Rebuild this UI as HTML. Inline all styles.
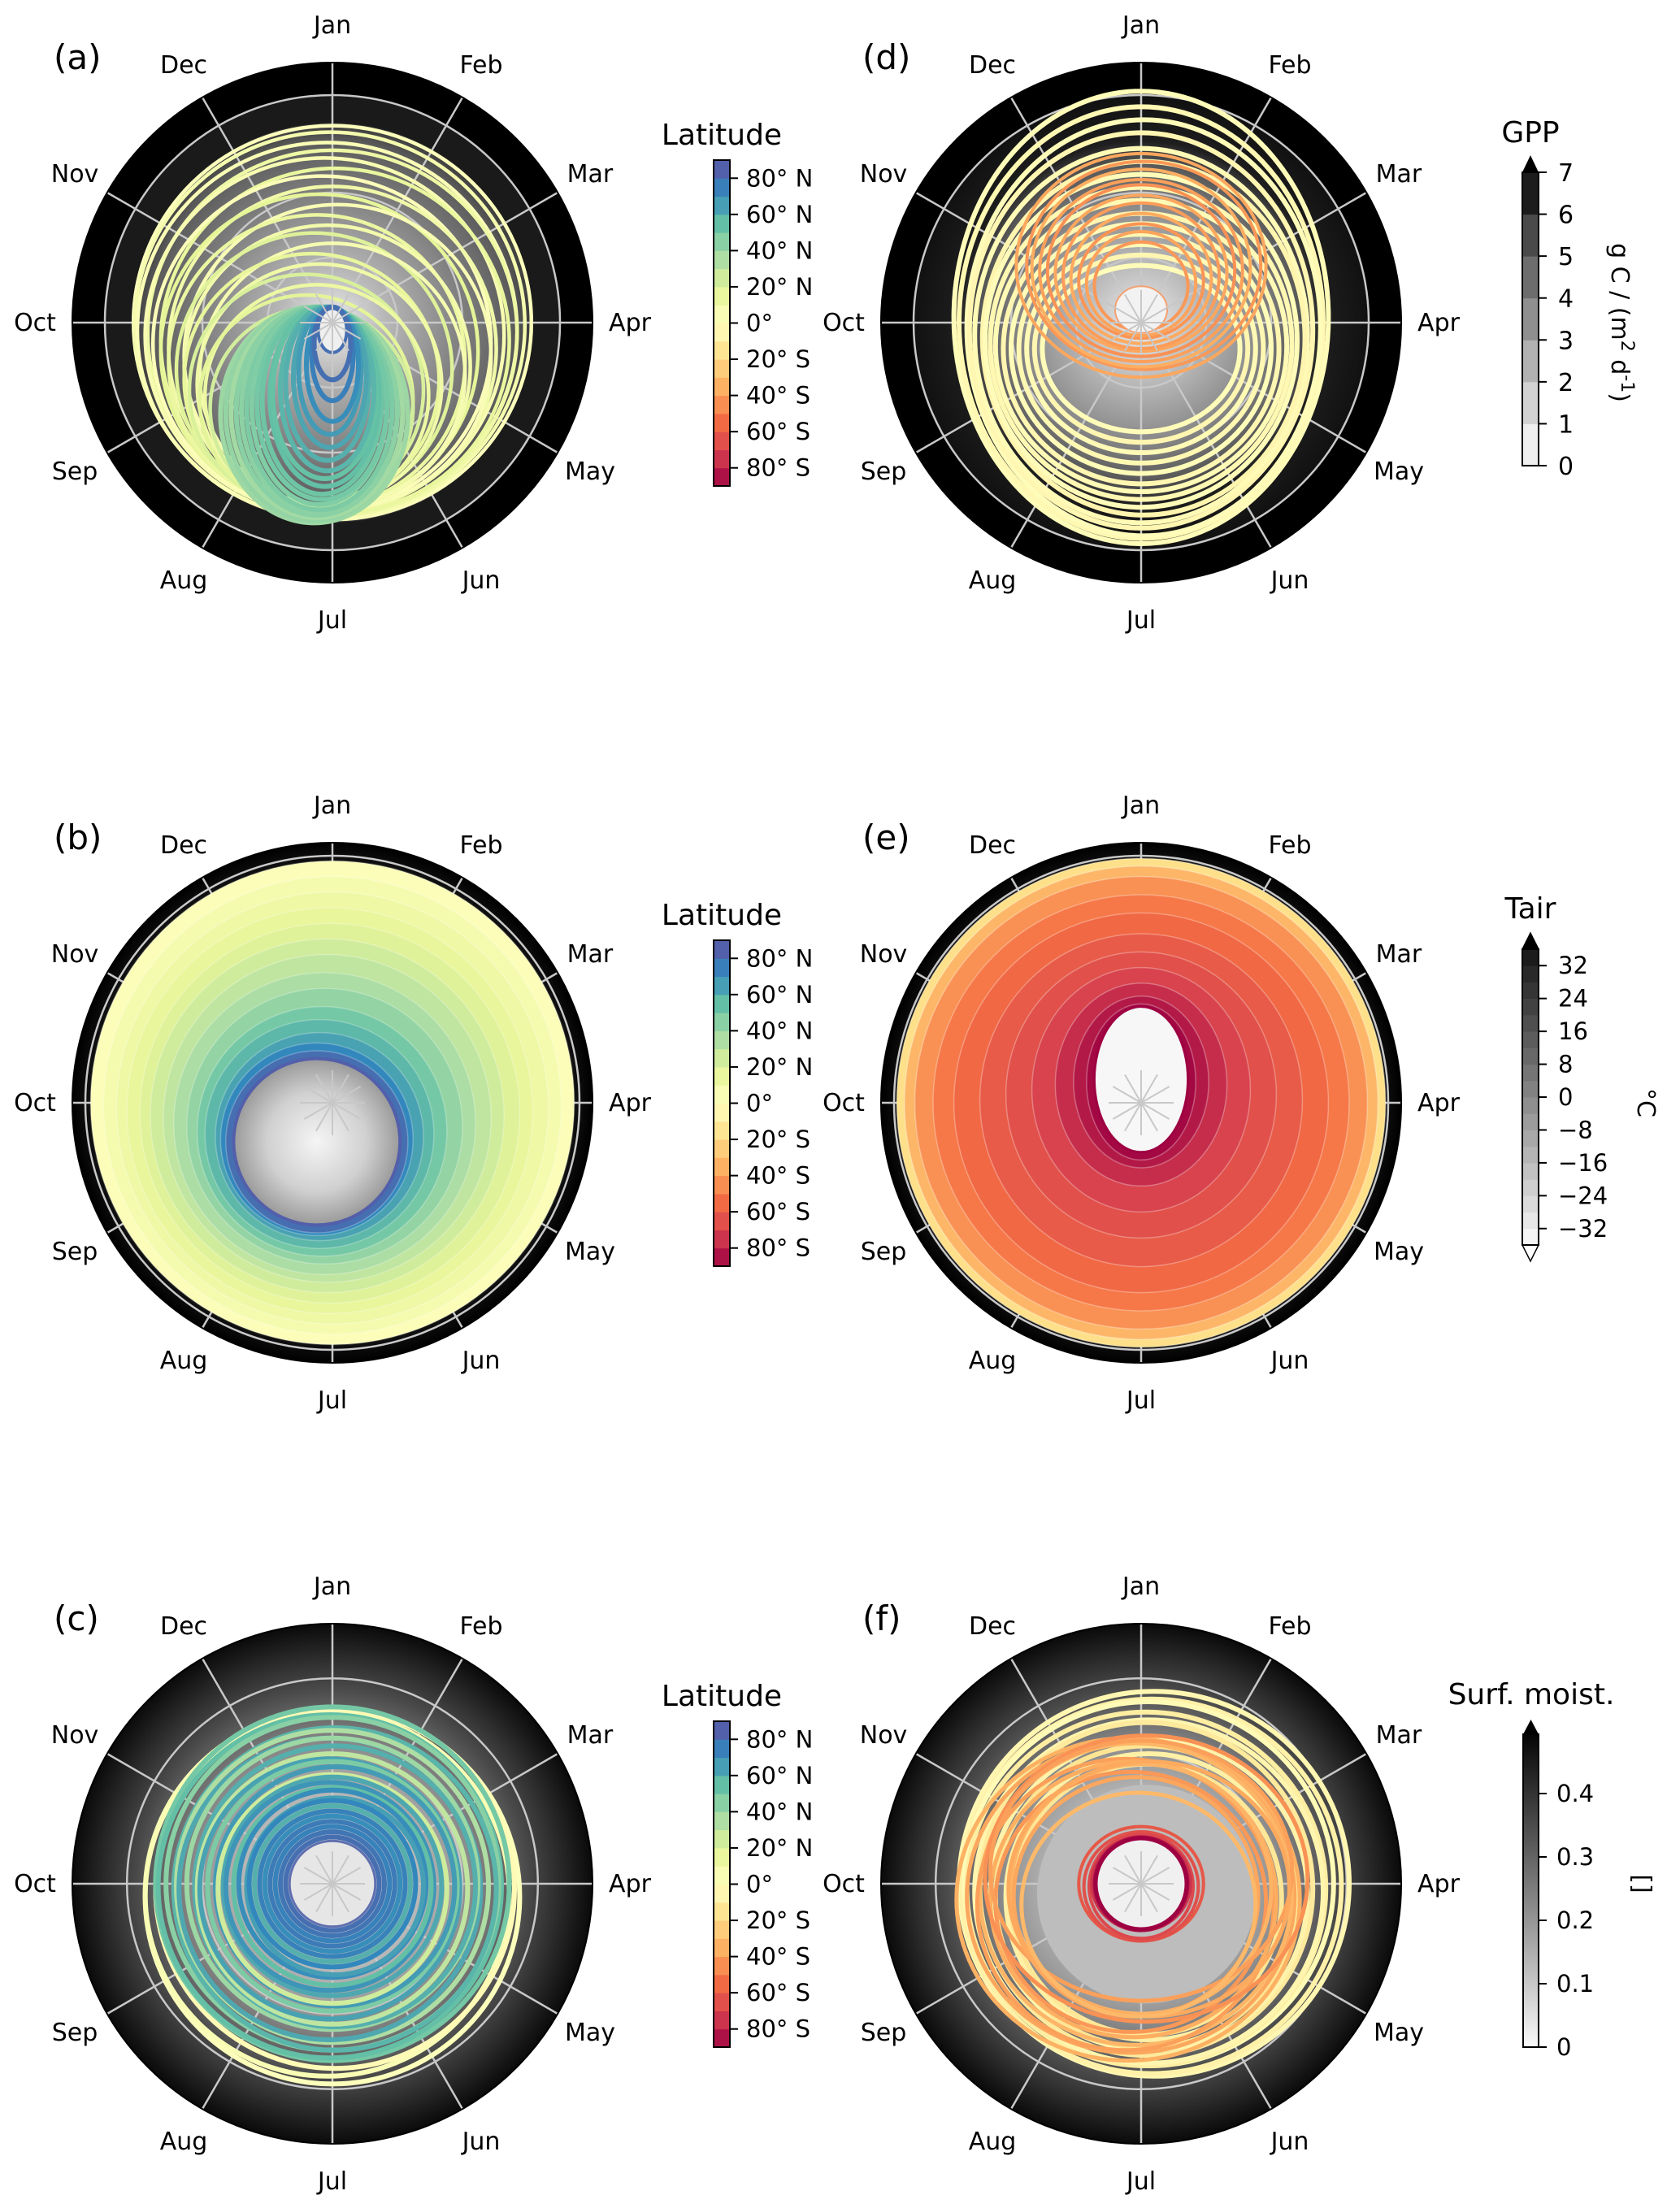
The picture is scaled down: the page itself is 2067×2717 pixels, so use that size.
<!DOCTYPE html>
<html><head><meta charset="utf-8"><style>
html,body{margin:0;padding:0;background:#fff;}
svg{display:block;font-family:"DejaVu Sans","Liberation Sans",sans-serif;}
</style></head><body>
<svg id="fig" width="2067" height="2717" viewBox="0 0 2067 2717" xmlns="http://www.w3.org/2000/svg"><defs id="defs"></defs></svg>
<script>
// ---------- data ----------
const months = ["Jan","Feb","Mar","Apr","May","Jun","Jul","Aug","Sep","Oct","Nov","Dec"];
const latTicks = [80,60,40,20,0,-20,-40,-60,-80];
const latTickLabels = ["80° N","60° N","40° N","20° N","0°","20° S","40° S","60° S","80° S"];
const gppTicks = [0,1,2,3,4,5,6,7];
const tairTicks = [32,24,16,8,0,-8,-16,-24,-32];
const tairTickLabels = ["32","24","16","8","0","\u22128","\u221216","\u221224","\u221232"];
const moistTicks = [0,0.1,0.2,0.3,0.4];
// panel a loops: [r, dx, dy, lat]
const aYellow = [[0.765,0,0,2],[0.75,-0.01,0.01,8],[0.73,-0.02,0.03,4],[0.71,0,0.04,12],[0.69,-0.03,0.05,6],[0.67,0.01,0.07,15],[0.65,-0.04,0.08,3],[0.63,0,0.1,10],[0.61,-0.05,0.11,18],[0.59,0.02,0.13,5],[0.57,-0.06,0.15,14],[0.55,-0.02,0.17,9],[0.53,-0.07,0.18,20],[0.51,0,0.2,7],[0.49,-0.08,0.22,16],[0.47,-0.05,0.24,11],[0.45,-0.1,0.26,22],[0.43,-0.06,0.28,13],[0.41,-0.1,0.3,19],[0.39,-0.08,0.33,24]];
// panel a teal loops: [rx, bottom, dx, lat]  (top fixed near centre)
const aTeal = [[0.36,0.77,-0.07,40],[0.34,0.76,-0.07,42],[0.33,0.75,-0.06,38],[0.31,0.74,-0.06,45],[0.3,0.73,-0.05,44],[0.28,0.72,-0.05,48],[0.26,0.7,-0.05,47],[0.25,0.68,-0.04,50],[0.23,0.66,-0.04,52],[0.21,0.63,-0.03,55],[0.2,0.6,-0.03,54],[0.18,0.57,-0.02,58],[0.16,0.53,-0.02,60],[0.14,0.48,-0.01,63],[0.12,0.43,-0.01,66],[0.1,0.38,0,70],[0.08,0.3,0,75],[0.07,0.22,0,80]];
// panel b filled bands: [r, dx, dy, lat]
const bBands = [[0.93,0,0,3],[0.88,0,0.01,8],[0.83,0,0.02,12],[0.78,-0.01,0.03,16],[0.73,-0.01,0.04,20],[0.68,-0.02,0.05,25],[0.63,-0.02,0.06,30],[0.58,-0.03,0.08,36],[0.53,-0.03,0.09,42],[0.48,-0.04,0.11,50],[0.44,-0.05,0.12,57],[0.4,-0.05,0.13,64],[0.37,-0.06,0.14,72],[0.35,-0.06,0.15,80]];
// panel c loops: [r, dx, dy, lat]
const cLoops = [[0.72,0,0.05,2],[0.7,-0.02,0.04,5],[0.69,0.01,0.02,-3],[0.68,0,0,50],[0.66,-0.01,0.01,55],[0.64,0,0,45],[0.62,0.01,0.02,58],[0.6,0,0.01,35],[0.58,-0.01,0.02,62],[0.56,0,0,40],[0.54,0.01,0.01,60],[0.52,0,0.02,30],[0.5,-0.01,0.02,64],[0.48,0,0.01,48],[0.46,0.01,0.01,66],[0.44,0,0.02,25],[0.42,0,0.01,62],[0.4,-0.01,0.01,68],[0.38,0,0.01,55],[0.36,0,0,70],[0.34,0.01,0.01,65],[0.32,0,0,72],[0.3,0,0,60],[0.28,0,0,74],[0.26,0,0,70],[0.24,0,0,76],[0.22,0,0,74],[0.2,0,0,78],[0.18,0,0,80]];
// panel d loops: [rx, ry, dx, dy, lat]
const dYellow = [[0.72,0.87,0,-0.02,-2],[0.7,0.83,0,0,-4],[0.68,0.8,0.01,0.02,-2],[0.66,0.76,0,0.03,-5],[0.64,0.72,0,0.05,-3],[0.62,0.68,0.01,0.06,-6],[0.6,0.64,0,0.07,-2],[0.58,0.6,0,0.08,-4],[0.56,0.56,0,0.09,-3],[0.53,0.52,0,0.1,-5],[0.5,0.48,0,0.1,-2],[0.47,0.44,0,0.1,-4],[0.44,0.4,0,0.1,-3],[0.41,0.36,0,0.1,-5],[0.38,0.32,0,0.1,-2]];
const dOrange = [[0.48,0.43,0,-0.22,-38],[0.45,0.4,0.01,-0.22,-42],[0.42,0.38,0,-0.21,-36],[0.39,0.35,0,-0.2,-40],[0.36,0.33,0,-0.2,-44],[0.33,0.3,0,-0.19,-38],[0.3,0.28,0,-0.18,-41],[0.27,0.25,0,-0.17,-37],[0.24,0.22,0,-0.16,-43],[0.21,0.2,0,-0.15,-39],[0.18,0.17,0,-0.14,-42]];
// panel e filled bands: [rx, ry, dx, dy, lat]
const eBands = [[0.94,0.94,0,0,-18],[0.91,0.91,0,0,-33],[0.87,0.87,0,0,-44],[0.8,0.8,0,0,-51],[0.72,0.73,0,0,-56],[0.62,0.64,0,-0.01,-61],[0.52,0.55,0,-0.03,-65],[0.42,0.47,0,-0.05,-70],[0.33,0.39,0,-0.07,-77],[0.26,0.33,0,-0.08,-83],[0.21,0.3,0,-0.08,-88]];
// panel f loops: [rx, ry, dx, dy, lat]
const fYellow = [[0.75,0.74,0.05,0,-5],[0.73,0.72,0.04,0.01,-8],[0.71,0.7,0.03,0,-3],[0.69,0.68,0.02,0.02,-10],[0.67,0.66,0.03,0.03,-6],[0.64,0.64,0.02,0.02,-12],[0.61,0.6,0.03,0.04,-7],[0.58,0.58,0.02,0.05,-15],[0.55,0.55,0.03,0.05,-9],[0.52,0.52,0.02,0.06,-14]];
const fOrange = [[0.66,0.62,-0.05,0.06,-35],[0.63,0.6,-0.04,0.05,-38],[0.6,0.58,-0.02,0.04,-33],[0.57,0.56,-0.06,0.08,-40],[0.55,0.53,-0.03,0.06,-36],[0.52,0.5,-0.04,0.07,-42],[0.5,0.48,0,0.02,-34],[0.47,0.46,-0.02,0.05,-38],[0.62,0.55,0.02,-0.02,-44],[0.58,0.5,0,-0.05,-40],[0.54,0.49,0.03,0.02,-37],[0.45,0.43,-0.01,0.08,-32]];
const fRed = [[0.24,0.22,0,0,-62],[0.22,0.21,0,0.01,-65],[0.2,0.2,0,0.01,-68],[0.19,0.18,0,0,-75],[0.18,0.18,0,0,-85]];

// ---------- helpers ----------
const NS = "http://www.w3.org/2000/svg";
const svg = document.getElementById("fig");
const defs = document.getElementById("defs");
const R = 320;
function mk(tag, attrs, parent){const e=document.createElementNS(NS,tag);for(const k in attrs)e.setAttribute(k,attrs[k]);(parent||svg).appendChild(e);return e;}
const spec=["#9e0142","#d53e4f","#f46d43","#fdae61","#fee08b","#ffffbf","#e6f598","#abdda4","#66c2a5","#3288bd","#5e4fa2"];
function hex(c){return [parseInt(c.slice(1,3),16),parseInt(c.slice(3,5),16),parseInt(c.slice(5,7),16)];}
function latColor(lat){let t=(lat+90)/180;t=Math.max(0,Math.min(1,t));const p=t*10,i=Math.min(9,Math.floor(p)),f=p-i;const a=hex(spec[i]),b=hex(spec[i+1]);return "rgb("+a.map((v,k)=>Math.round(v+(b[k]-v)*f)).join(",")+")";}
function rs(v){return v*R;} // radial scale
function gradient(id, stops){const g=mk("radialGradient",{id:id,cx:"50%",cy:"50%",r:"50%"},defs);stops.forEach(s=>mk("stop",{offset:s[0],"stop-color":s[1]},g));}

function panel(cx, cy, label, bgId, gridRs){
  const g = mk("g",{});
  
  
  const bg = mk("circle",{cx:cx,cy:cy,r:R,fill:"url(#"+bgId+")"},g);
  
  
  const grid = mk("g",{stroke:"#c8c8c8","stroke-width":2.5,fill:"none"},g);
  
  
  gridRs.forEach(r=>mk("circle",{cx:cx,cy:cy,r:rs(r)},grid));
  for(let i=0;i<12;i++){const a=i*Math.PI/6;mk("line",{x1:cx,y1:cy,x2:cx+R*Math.sin(a),y2:cy-R*Math.cos(a)},grid);}
  const data = mk("g",{fill:"none"},g);
  
  
  const top = mk("g",{},g);
  const outline = mk("circle",{cx:cx,cy:cy,r:R,fill:"none",stroke:"#000","stroke-width":2},top);
  
  
  months.forEach((m,i)=>{const a=i*Math.PI/6;const t=mk("text",{x:cx+366*Math.sin(a),y:cy-366*Math.cos(a)+10,"font-size":30,"text-anchor":"middle",fill:"#000"},top);t.textContent=m;
    
    });
  const pl = mk("text",{x:cx-343,y:cy-312,"font-size":42,fill:"#000"},top);pl.textContent=label;
  
  
  return {data:data,top:top,cx:cx,cy:cy,g:g,grid:grid};
}
function loop(p, rx, ry, dx, dy, color, w, fill){
  const e = mk("ellipse",{cx:p.cx+rs(dx),cy:p.cy+rs(dy),rx:rs(rx),ry:rs(ry),stroke:color,"stroke-width":w,fill:fill||"none"},p.data);
  
  
  return e;
}

// backgrounds
gradient("bgA",[[0,"#eeeeee"],[0.2,"#b8b8b8"],[0.45,"#888"],[0.7,"#5a5a5a"],[0.765,"#3a3a3a"],[0.77,"#1a1a1a"],[0.874,"#1a1a1a"],[0.876,"#000"],[1,"#000"]]);
gradient("bgD",[[0,"#eeeeee"],[0.2,"#c0c0c0"],[0.45,"#8a8a8a"],[0.62,"#555"],[0.7,"#1e1e1e"],[0.874,"#111"],[0.876,"#000"],[1,"#000"]]);
gradient("bgB",[[0,"#f0f0f0"],[0.3,"#bbb"],[0.9,"#333"],[0.93,"#111"],[1,"#000"]]);
gradient("bgC",[[0,"#ffffff"],[0.2,"#d4d4d4"],[0.5,"#959595"],[0.75,"#4a4a4a"],[1,"#0a0a0a"]]);
gradient("holeB",[[0,"#f5f5f5"],[0.6,"#d0d0d0"],[1,"#9a9a9a"]]);

// ---------- panel a ----------
const pa = panel(409,397,"(a)","bgA",[0.25,0.5,0.875]);
aYellow.forEach(d=>loop(pa,d[0],d[0]*0.99,d[1],d[2],latColor(d[3]),4.5));
aTeal.forEach(d=>{const top=-0.06;const ry=(d[1]-top)/2;loop(pa,d[0],ry,d[2],top+ry,latColor(d[3]),6);});
loop(pa,0.055,0.085,0,0.03,latColor(80),4,"#efefef");

// ---------- panel b ----------
const pb = panel(409,1357,"(b)","bgB",[0.95]);
bBands.forEach(d=>loop(pb,d[0],d[0],d[1],d[2],"rgba(255,255,255,0.25)",1.5,latColor(d[3])));
loop(pb,0.32,0.32,-0.06,0.15,latColor(85),4,"url(#holeB)");

// ---------- panel c ----------
const pc = panel(409,2318,"(c)","bgC",[0.5,0.79]);
cLoops.forEach(d=>loop(pc,d[0],d[0],d[1],d[2],latColor(d[3]),6));
loop(pc,0.165,0.165,0,0,"#5e6fb0",3,"#e6e6e6");

// ---------- panel d ----------
const pd = panel(1404,397,"(d)","bgD",[0.25,0.5,0.875]);
dYellow.forEach(d=>loop(pd,d[0],d[1],d[2],d[3],latColor(d[4]),6));
dOrange.forEach(d=>loop(pd,d[0],d[1],d[2],d[3],latColor(d[4]),4));
loop(pd,0.1,0.09,0,-0.05,"#f4a070",2,"#f2f2f2");

// ---------- panel e ----------
const pe = panel(1404,1357,"(e)","bgB",[0.95]);
eBands.forEach(d=>loop(pe,d[0],d[1],d[2],d[3],"rgba(255,255,255,0.3)",1.5,latColor(d[4])));
loop(pe,0.18,0.28,0,-0.09,"#9e0142",3,"#f7f7f7");

// ---------- panel f ----------
const pf = panel(1404,2318,"(f)","bgC",[0.5,0.79]);
fYellow.forEach(d=>loop(pf,d[0],d[1],d[2],d[3],latColor(d[4]),6));
loop(pf,0.42,0.42,0.02,0.04,"none",0,"#bdbdbd");
fOrange.forEach(d=>loop(pf,d[0],d[1],d[2],d[3],latColor(d[4]),5));
fRed.forEach(d=>loop(pf,d[0],d[1],d[2],d[3],latColor(d[4]),4));
loop(pf,0.175,0.175,0,0,"#9e0142",5,"#f0f0f0");
// redraw spokes over white centres
[pa,pb,pc,pd,pe,pf].forEach(p=>{const gg=mk("g",{stroke:"#c8c8c8","stroke-width":2},p.data);
  
  
  for(let i=0;i<12;i++){const a=i*Math.PI/6;mk("line",{x1:p.cx,y1:p.cy,x2:p.cx+40*Math.sin(a),y2:p.cy-40*Math.cos(a)},gg);}});

// ---------- colorbars ----------
function cbFrame(name){const g=mk("g",{});return g;}
function latBar(y0, y1, titleY){
  const g = cbFrame("latitude-colorbar");
  const x=878,w=20,scale=v=>y1-(v+90)/180*(y1-y0);
  for(let b=-90;b<90;b+=10){mk("rect",{x:x,y:scale(b+10),width:w,height:scale(b)-scale(b+10)+0.5,fill:latColor(b+5)},g);}
  mk("rect",{x:x,y:y0,width:w,height:y1-y0,fill:"none",stroke:"#000","stroke-width":2},g);
  latTicks.forEach((v,i)=>{const y=scale(v);mk("line",{x1:x+w,x2:x+w+10,y1:y,y2:y,stroke:"#000","stroke-width":2},g);
    const t=mk("text",{x:x+w+20,y:y+10,"font-size":29},g);t.textContent=latTickLabels[i];});
  const t=mk("text",{x:888,y:titleY,"font-size":36,"text-anchor":"middle"},g);t.textContent="Latitude";
  
  
}
latBar(197,598,178);
latBar(1157,1558,1138);
latBar(2118,2519,2099);

// GPP
(function(){const g=cbFrame("gpp-colorbar");const x=1873,w=20,y0=212,y1=573,s=v=>y1-v/7*(y1-y0);
  const grays=["#efefef","#d2d2d2","#b2b2b2","#8f8f8f","#6d6d6d","#4a4a4a","#1c1c1c"];
  grays.forEach((c,i)=>mk("rect",{x:x,y:s(i+1),width:w,height:s(i)-s(i+1)+0.5,fill:c},g));
  mk("polygon",{points:`${x},${y0} ${x+w},${y0} ${x+w/2},191`,fill:"#000"},g);
  mk("rect",{x:x,y:y0,width:w,height:y1-y0,fill:"none",stroke:"#000","stroke-width":2},g);
  gppTicks.forEach(v=>{const y=s(v);mk("line",{x1:x+w,x2:x+w+10,y1:y,y2:y,stroke:"#000","stroke-width":2},g);const t=mk("text",{x:x+w+24,y:y+11,"font-size":30},g);t.textContent=v;});
  const t=mk("text",{x:1883,y:175,"font-size":36,"text-anchor":"middle"},g);t.textContent="GPP";
  const u=mk("text",{x:0,y:0,"font-size":30,"text-anchor":"middle",transform:"translate(1983,397) rotate(90)"},g);
  u.innerHTML='g C / (m<tspan dy="-12" font-size="22">2</tspan><tspan dy="12"> d</tspan><tspan dy="-12" font-size="22">-1</tspan><tspan dy="12">)</tspan>';
  
  
})();
// Tair
(function(){const g=cbFrame("tair-colorbar");const x=1873,w=20,y0=1168,y1=1532,s=v=>y1-(v+36)/72*(y1-y0);
  for(let v=-36;v<36;v+=4){const k=(v+36)/72;const c=Math.round(245-k*230);mk("rect",{x:x,y:s(v+4),width:w,height:s(v)-s(v+4)+0.5,fill:`rgb(${c},${c},${c})`},g);}
  mk("polygon",{points:`${x},${y0} ${x+w},${y0} ${x+w/2},1148`,fill:"#000",stroke:"#000","stroke-width":1.5},g);
  mk("polygon",{points:`${x},${y1} ${x+w},${y1} ${x+w/2},1552`,fill:"#fff",stroke:"#000","stroke-width":1.5},g);
  mk("rect",{x:x,y:y0,width:w,height:y1-y0,fill:"none",stroke:"#000","stroke-width":2},g);
  tairTicks.forEach((v,i)=>{const y=s(v);mk("line",{x1:x+w,x2:x+w+10,y1:y,y2:y,stroke:"#000","stroke-width":2},g);const t=mk("text",{x:x+w+24,y:y+10,"font-size":29},g);t.textContent=tairTickLabels[i];});
  const t=mk("text",{x:1883,y:1130,"font-size":36,"text-anchor":"middle"},g);t.textContent="Tair";
  const u=mk("text",{x:0,y:0,"font-size":30,"text-anchor":"middle",transform:"translate(2015,1357) rotate(90)"},g);u.textContent="°C";
})();
// Surface moisture
(function(){const g=cbFrame("moisture-colorbar");const x=1874,w=19,y0=2134,y1=2519,s=v=>y1-v/0.4*(y1-2207);
  const lg=mk("linearGradient",{id:"moistG",x1:0,y1:1,x2:0,y2:0},defs);
  mk("stop",{offset:0,"stop-color":"#fafafa"},lg);mk("stop",{offset:0.45,"stop-color":"#8a8a8a"},lg);mk("stop",{offset:1,"stop-color":"#050505"},lg);
  mk("rect",{x:x,y:y0,width:w,height:y1-y0,fill:"url(#moistG)"},g);
  mk("polygon",{points:`${x},${y0} ${x+w},${y0} ${x+w/2},2116`,fill:"#000"},g);
  mk("rect",{x:x,y:y0,width:w,height:y1-y0,fill:"none",stroke:"#000","stroke-width":2},g);
  moistTicks.forEach(v=>{const y=s(v);mk("line",{x1:x+w,x2:x+w+10,y1:y,y2:y,stroke:"#000","stroke-width":2},g);const t=mk("text",{x:x+w+22,y:y+10,"font-size":29},g);t.textContent=v;});
  const t=mk("text",{x:1884,y:2097,"font-size":36,"text-anchor":"middle"},g);t.textContent="Surf. moist.";
  const u=mk("text",{x:0,y:0,"font-size":30,"text-anchor":"middle",transform:"translate(2010,2318) rotate(90)"},g);u.textContent="[]";
})();
</script>
</body></html>
